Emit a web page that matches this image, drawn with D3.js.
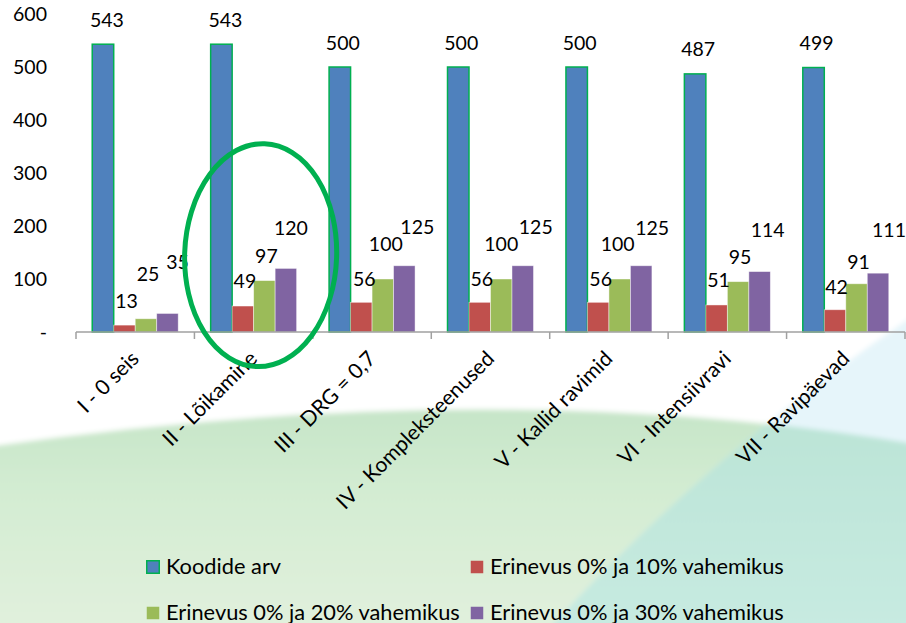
<!DOCTYPE html>
<html>
<head>
<meta charset="utf-8">
<script src="https://cdn.jsdelivr.net/npm/d3@7/dist/d3.min.js"></script>
<style>
  html, body { margin: 0; padding: 0; background: #fff; }
  svg { display: block; font-family: Lato, "Open Sans", sans-serif; }
</style>
</head>
<body>
<svg id="chart" width="906" height="623"></svg>
<script>
// Categories (x axis)
const categories = [
  "I - 0 seis",
  "II - Lõikamine",
  "III - DRG = 0,7",
  "IV - Komplek\u00ADsteenused".replace("\u00AD", ""),
  "V - Kallid ravimid",
  "VI - Intensiivravi",
  "VII - Ravipäevad"
];

// Series
const seriesNames = [
  "Koodide arv",
  "Erinevus 0% ja 10% vahemikus",
  "Erinevus 0% ja 20% vahemikus",
  "Erinevus 0% ja 30% vahemikus"
];
const koodideArv   = [543, 543, 500, 500, 500, 487, 499];
const erinevus10   = [13, 49, 56, 56, 56, 51, 42];
const erinevus20   = [25, 97, 100, 100, 100, 95, 91];
const erinevus30   = [35, 120, 125, 125, 125, 114, 111];
const seriesValues = [koodideArv, erinevus10, erinevus20, erinevus30];

// Y axis ticks
const yTicks = [0, 100, 200, 300, 400, 500, 600];
const yTickLabels = ["-", "100", "200", "300", "400", "500", "600"];

// Styling
const colors = ["#4f81bd", "#c0504d", "#9bbb59", "#8064a2"];
const highlight = "#00b050";

// Hand-placed label offsets [dx, gap above bar top to label centre], per series per category
const labelNudge = [
  [[4, 24.5], [4, 24.5], [3, 24.5], [3, 24.5], [3, 24.5], [3, 25], [3, 24.5]],
  [[2, 24], [2, 25], [3, 23.5], [2, 23.5], [2.5, 23.5], [2, 25], [1.5, 23]],
  [[2, 45], [2, 24.5], [3, 35], [0, 35], [-2, 35], [2, 24.5], [2, 21.5]],
  [[10, 51], [5, 40], [13, 38.5], [13, 38.5], [11, 38], [8, 41.5], [11, 43]]
];

const svg = d3.select("#chart");
const W = 906, H = 623;

// ---- background artwork ----
const defs = svg.append("defs");
const gGreen = defs.append("linearGradient").attr("id", "gGreen")
  .attr("x1", 0).attr("y1", 0).attr("x2", 0).attr("y2", 1);
gGreen.append("stop").attr("offset", 0).attr("stop-color", "#c6e5c8");
gGreen.append("stop").attr("offset", 0.35).attr("stop-color", "#d3ecd2");
gGreen.append("stop").attr("offset", 1).attr("stop-color", "#e3f1de");

const gTeal = defs.append("linearGradient").attr("id", "gTeal")
  .attr("x1", 0).attr("y1", 0).attr("x2", 0).attr("y2", 1);
gTeal.append("stop").attr("offset", 0).attr("stop-color", "#b6e1d1");
gTeal.append("stop").attr("offset", 1).attr("stop-color", "#c8ebe2");

const soft = defs.append("filter").attr("id", "soft")
  .attr("x", "-5%").attr("y", "-5%").attr("width", "110%").attr("height", "110%");
soft.append("feGaussianBlur").attr("stdDeviation", 2.5);

const arcPath = "M -20 448 Q 500 372 926 446 L 926 643 L -20 643 Z";
const wedgePath = "M 910 318 Q 700 460 536 643 L 926 643 L 926 318 Z";

defs.append("clipPath").attr("id", "arcClip").append("path").attr("d", arcPath);

const bg = svg.append("g").attr("filter", "url(#soft)");
bg.append("rect").attr("width", W).attr("height", H).attr("fill", "#ffffff");
bg.append("path").attr("d", arcPath).attr("fill", "url(#gGreen)");
bg.append("path").attr("d", wedgePath).attr("fill", "#e6f5fa");
bg.append("path").attr("d", wedgePath).attr("fill", "url(#gTeal)").attr("clip-path", "url(#arcClip)");

// ---- scales ----
const y = d3.scaleLinear().domain([0, 600]).range([332, 14]);
const x0 = d3.scaleBand().domain(categories).range([76, 905]).padding(0);
const x1 = d3.scaleBand().domain(d3.range(4)).range([0, x0.bandwidth()])
  .paddingInner(0).paddingOuter(0.755);

// ---- y axis labels ----
const yAxis = d3.axisLeft(y).tickValues(yTicks)
  .tickFormat((d, i) => yTickLabels[i]).tickSize(0).tickPadding(0);
const yG = svg.append("g").attr("transform", "translate(47,0)").call(yAxis);
yG.select(".domain").remove();
yG.selectAll("text").attr("font-family", "Lato, sans-serif")
  .attr("font-size", 19.5).attr("fill", "#000");

// ---- bars ----
const groups = svg.append("g").selectAll("g")
  .data(categories).join("g")
  .attr("transform", d => `translate(${x0(d)},0)`);

groups.selectAll("rect")
  .data((c, ci) => seriesValues.map((vals, si) => ({ si, ci, v: vals[ci] })))
  .join("rect")
  .attr("x", d => x1(d.si))
  .attr("y", d => y(d.v))
  .attr("width", x1.bandwidth())
  .attr("height", d => y(0) - y(d.v))
  .attr("fill", d => colors[d.si])
  .attr("stroke", d => d.si === 0 ? highlight : "rgba(255,255,255,0.55)")
  .attr("stroke-width", d => d.si === 0 ? 1.5 : 0.8);

// ---- x axis ----
const xAxisG = svg.append("g");
xAxisG.append("line")
  .attr("x1", x0.range()[0]).attr("x2", x0.range()[1])
  .attr("y1", y(0)).attr("y2", y(0))
  .attr("stroke", "#a0a0a0").attr("stroke-width", 1.5);
const boundaries = categories.map(c => x0(c)).concat([x0.range()[1]]);
xAxisG.selectAll("line.tick").data(boundaries).join("line")
  .attr("class", "tick")
  .attr("x1", d => d).attr("x2", d => d)
  .attr("y1", y(0)).attr("y2", y(0) + 7)
  .attr("stroke", "#a0a0a0").attr("stroke-width", 1.5);

// category labels, rotated
svg.append("g").selectAll("text").data(categories).join("text")
  .attr("transform", d => `translate(${x0(d) + x0.bandwidth() / 2 + 5},${y(0) + 28}) rotate(-45)`)
  .attr("text-anchor", "end")
  .attr("font-size", 21)
  .attr("fill", "#000")
  .text(d => d);

// ---- value labels ----
groups.selectAll("text.val")
  .data((c, ci) => seriesValues.map((vals, si) => ({ si, ci, v: vals[ci] })))
  .join("text")
  .attr("class", "val")
  .attr("x", d => x1(d.si) + x1.bandwidth() / 2 + labelNudge[d.si][d.ci][0])
  .attr("y", d => y(d.v) - labelNudge[d.si][d.ci][1])
  .attr("dy", "0.36em")
  .attr("text-anchor", "middle")
  .attr("font-size", 19.5)
  .attr("fill", "#000")
  .text(d => d.v);

// ---- highlight ellipse around category II ----
const cII = x0(categories[1]) + x0.bandwidth() / 2;
svg.append("ellipse")
  .attr("transform", `translate(${cII + 7},${y(145)}) rotate(2)`)
  .attr("rx", 76).attr("ry", 111.5)
  .attr("fill", "none")
  .attr("stroke", highlight)
  .attr("stroke-width", 5);

// ---- legend ----
const legendPos = [[146, 560], [470, 560], [146, 606], [470, 606]];
const legend = svg.append("g").selectAll("g").data(seriesNames).join("g")
  .attr("transform", (d, i) => `translate(${legendPos[i][0]},${legendPos[i][1]})`);
legend.append("rect")
  .attr("x", 0.75).attr("y", 0.75).attr("width", 12.5).attr("height", 12.5)
  .attr("fill", (d, i) => colors[i])
  .attr("stroke", (d, i) => i === 0 ? highlight : "none")
  .attr("stroke-width", 1.5);
legend.append("text")
  .attr("x", 20).attr("y", 13.5)
  .attr("font-size", 21.8)
  .attr("fill", "#000")
  .text(d => d);
</script>
</body>
</html>
